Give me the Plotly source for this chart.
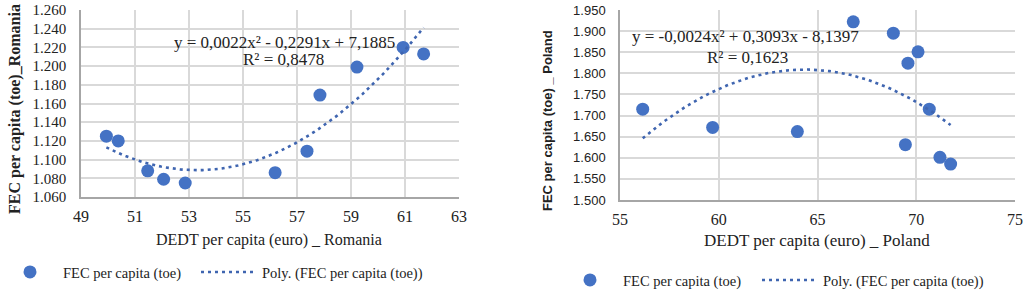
import numpy as np
import plotly.graph_objects as go

# Romania data
ro_x = [49.94, 50.38, 51.47, 52.06, 52.86, 56.19, 57.37, 57.85, 59.22, 60.93, 61.69]
ro_y = [1.125, 1.120, 1.088, 1.079, 1.075, 1.086, 1.109, 1.169, 1.199, 1.220, 1.213]
# Poland data
pl_x = [56.15, 59.69, 63.98, 66.81, 68.84, 70.09, 69.58, 70.66, 69.45, 71.20, 71.74]
pl_y = [1.715, 1.672, 1.662, 1.922, 1.895, 1.851, 1.824, 1.715, 1.631, 1.601, 1.585]

ro_eq = "y = 0,0022x² - 0,2291x + 7,1885"
ro_r2 = "R² = 0,8478"
pl_eq = "y = -0,0024x² + 0,3093x - 8,1397"
pl_r2 = "R² = 0,1623"

ro_xticks = [49, 51, 53, 55, 57, 59, 61, 63]
ro_yticks = [1.060, 1.080, 1.100, 1.120, 1.140, 1.160, 1.180, 1.200, 1.220, 1.240, 1.260]
pl_xticks = [55, 60, 65, 70, 75]
pl_yticks = [1.500, 1.550, 1.600, 1.650, 1.700, 1.750, 1.800, 1.850, 1.900, 1.950]

BLUE = "#4472C4"
LINEBLUE = "#3F65B0"
SERIF = "Liberation Serif, Times New Roman, serif"
SANS = "Liberation Sans, Arial, sans-serif"
W, H = 1024, 290

def px(x):
    return x / W

def py(y):
    return 1 - y / H

def trend(xs, ys):
    c = np.polyfit(xs, ys, 2)
    t = np.linspace(min(xs), max(xs), 100)
    return t, np.polyval(c, t)

fig = go.Figure()
rt, ry = trend(ro_x, ro_y)
pt, pyv = trend(pl_x, pl_y)

DASH = "3px,4px"
fig.add_trace(go.Scatter(x=ro_x, y=ro_y, mode="markers", name="FEC per capita (toe)",
                         marker=dict(color=BLUE, size=13), xaxis="x", yaxis="y", legend="legend"))
fig.add_trace(go.Scatter(x=rt, y=ry, mode="lines", name="Poly. (FEC per capita (toe))",
                         line=dict(color=LINEBLUE, width=2.6, dash=DASH), xaxis="x", yaxis="y", legend="legend2"))
fig.add_trace(go.Scatter(x=pl_x, y=pl_y, mode="markers", name="FEC per capita (toe)",
                         marker=dict(color=BLUE, size=13), xaxis="x2", yaxis="y2", legend="legend3"))
fig.add_trace(go.Scatter(x=pt, y=pyv, mode="lines", name="Poly. (FEC per capita (toe))",
                         line=dict(color=LINEBLUE, width=2.6, dash=DASH), xaxis="x2", yaxis="y2", legend="legend4"))

grid = "#d9d9d9"
axline = "#a6a6a6"
common_x = dict(showgrid=True, gridcolor=grid, gridwidth=1.5, showline=True, linecolor=axline, linewidth=1.5,
                zeroline=False, ticks="", mirror=False, ticklabelstandoff=4, automargin=False,
                ticklabeloverflow="allow", tickfont=dict(family=SERIF, size=16, color="#222"))
common_y = dict(showgrid=True, gridcolor=grid, gridwidth=1.5, showline=True, linecolor=axline, linewidth=1.5,
                zeroline=False, ticks="", tickformat=".3f", ticklabelstandoff=10, automargin=False,
                ticklabeloverflow="allow")

def leg(x0, yc):
    return dict(orientation="h", x=px(x0), y=py(yc), xanchor="left", yanchor="middle", itemwidth=56,
                font=dict(family=SERIF, size=14.5, color="#222"), bgcolor="rgba(0,0,0,0)")

fig.update_layout(
    width=W, height=H, margin=dict(l=0, r=0, t=0, b=0, autoexpand=False),
    paper_bgcolor="white", plot_bgcolor="white",
    xaxis=dict(domain=[px(81), px(459)], range=[49, 63], tickvals=ro_xticks, anchor="y", **common_x),
    yaxis=dict(domain=[py(197), py(10)], range=[1.060, 1.260], tickvals=ro_yticks, anchor="x",
               tickfont=dict(family=SERIF, size=15, color="#222"), **common_y),
    xaxis2=dict(domain=[px(620), px(1015)], range=[55, 75], tickvals=pl_xticks, anchor="y2", **common_x),
    yaxis2=dict(domain=[py(200), py(10)], range=[1.500, 1.950], tickvals=pl_yticks, anchor="x2",
                tickfont=dict(family=SANS, size=13, color="#222"), **common_y),
    legend=leg(-3, 272),
    legend2=leg(196, 272),
    legend3=leg(557, 280),
    legend4=leg(757, 280),
    showlegend=True,
)

ann = [
    dict(text="FEC per capita (toe)_Romania", x=px(15), y=py(109), textangle=-90,
         font=dict(family=SERIF, size=16, color="#222")),
    dict(text="DEDT per capita (euro) _ Romania", x=px(269), y=py(240),
         font=dict(family=SERIF, size=16, color="#222")),
    dict(text="FEC per capita (toe) _ Poland", x=px(547), y=py(121), textangle=-90,
         font=dict(family=SANS, size=13, color="#222")),
    dict(text="DEDT per capita (euro) _ Poland", x=px(817), y=py(240),
         font=dict(family=SERIF, size=17, color="#222")),
    dict(text=ro_eq, x=px(284), y=py(42), font=dict(family=SERIF, size=17, color="#222")),
    dict(text=ro_r2, x=px(283), y=py(60), font=dict(family=SERIF, size=17, color="#222")),
    dict(text=pl_eq, x=px(745), y=py(36), font=dict(family=SERIF, size=17, color="#222")),
    dict(text=pl_r2, x=px(747), y=py(57), font=dict(family=SERIF, size=17, color="#222")),
]
for i, a in enumerate(ann):
    a.update(xref="paper", yref="paper", showarrow=False, xanchor="center", yanchor="middle")
    if i in (0, 2):
        a["font"]["weight"] = "bold"
fig.update_layout(annotations=ann)

fig.write_html("out.html", config={"displayModeBar": False},
               post_script="document.body.style.margin='0';document.body.style.padding='0';")
